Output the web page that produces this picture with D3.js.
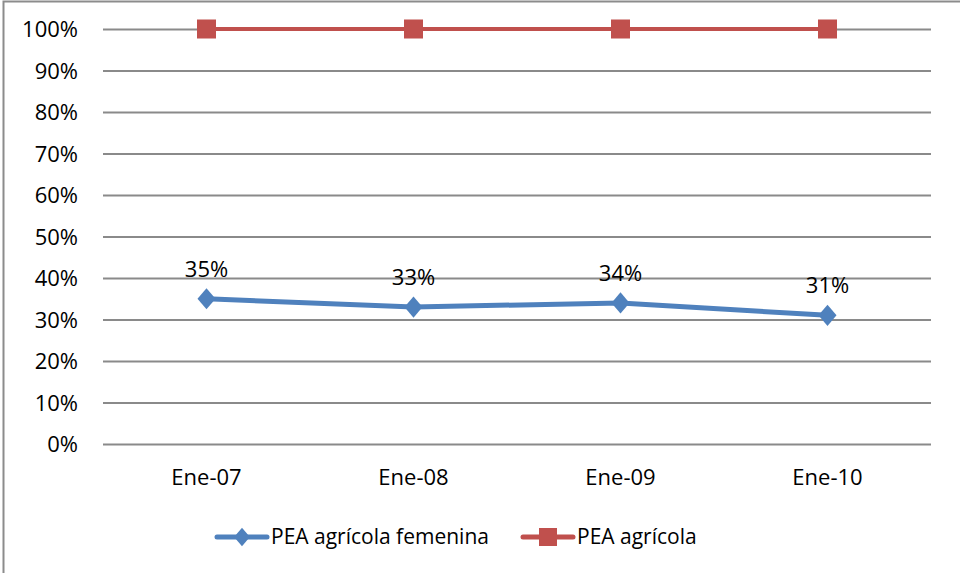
<!DOCTYPE html>
<html>
<head>
<meta charset="utf-8">
<script src="https://cdn.jsdelivr.net/npm/d3@7/dist/d3.min.js"></script>
<style>
  html, body { margin: 0; padding: 0; background: #fff; }
  svg { display: block; font-family: "Open Sans", Lato, "Liberation Sans", sans-serif; }
</style>
</head>
<body>
<svg id="chart" width="960" height="573"></svg>
<script>
// Periods on the x axis
const periods = ["Ene-07", "Ene-08", "Ene-09", "Ene-10"];
// Series values (percent)
const peaFemenina = [35, 33, 34, 31];
const peaAgricola = [100, 100, 100, 100];
// Y axis ticks (percent)
const yTicks = [0, 10, 20, 30, 40, 50, 60, 70, 80, 90, 100];
// Legend entries
const seriesNames = ["PEA agrícola femenina", "PEA agrícola"];
const seriesColors = ["#4F81BD", "#C0504D"];

const svg = d3.select("#chart");
const W = 960, H = 573;
const plot = { left: 103, right: 931, top: 29, bottom: 444 };
const axisFont = "22px";
const legendFont = "21px";

// Diamond marker a little wider than d3's default one
const wideDiamond = {
  draw(ctx, size) {
    const h = Math.sqrt(size) / 2 * 1.15, w = h * 0.85;
    ctx.moveTo(0, -h); ctx.lineTo(w, 0); ctx.lineTo(0, h); ctx.lineTo(-w, 0); ctx.closePath();
  }
};

// Outer chart frame
svg.append("rect")
  .attr("x", 3.5).attr("y", 1.5)
  .attr("width", W + 10).attr("height", H + 10)
  .attr("fill", "#fff").attr("stroke", "#8c8c8c").attr("stroke-width", 2);

const x = d3.scaleBand().domain(periods).range([plot.left, plot.right]);
const y = d3.scaleLinear().domain([0, 100]).range([plot.bottom, plot.top]);

// Horizontal gridlines and y labels
const yAxis = d3.axisLeft(y).tickValues(yTicks).tickFormat(d => d + "%")
  .tickSize(-(plot.right - plot.left)).tickPadding(25);
const gy = svg.append("g").attr("transform", `translate(${plot.left},0)`).call(yAxis);
gy.select(".domain").remove();
gy.selectAll(".tick line").attr("stroke", "#8a8a8a").attr("stroke-width", 2);
gy.selectAll(".tick text").attr("fill", "#000").style("font-size", axisFont)
  .style("font-family", "'Open Sans', sans-serif").attr("dy", "0.35em");

// Category labels
const xAxis = d3.axisBottom(x).tickSize(0).tickPadding(25);
const gx = svg.append("g").attr("transform", `translate(0,${plot.bottom})`).call(xAxis);
gx.select(".domain").remove();
gx.selectAll(".tick text").attr("fill", "#000").style("font-size", axisFont)
  .style("font-family", "'Open Sans', sans-serif");

const cx = d => x(d) + x.bandwidth() / 2;
const line = d3.line().x((d, i) => cx(periods[i])).y(d => y(d));

// PEA agrícola (red squares)
svg.append("path").datum(peaAgricola)
  .attr("d", line).attr("fill", "none")
  .attr("stroke", seriesColors[1]).attr("stroke-width", 4);
svg.selectAll(".sq").data(peaAgricola).enter().append("rect")
  .attr("x", (d, i) => cx(periods[i]) - 9.5)
  .attr("y", d => y(d) - 9.5)
  .attr("width", 19).attr("height", 19)
  .attr("fill", seriesColors[1]);

// PEA agrícola femenina (blue diamonds)
svg.append("path").datum(peaFemenina)
  .attr("d", line).attr("fill", "none")
  .attr("stroke", seriesColors[0]).attr("stroke-width", 5);
const diamond = d3.symbol().type(wideDiamond).size(340);
svg.selectAll(".dm").data(peaFemenina).enter().append("path")
  .attr("d", diamond)
  .attr("transform", (d, i) => `translate(${cx(periods[i])},${y(d)})`)
  .attr("fill", seriesColors[0]);

// Data labels
svg.selectAll(".lbl").data(peaFemenina).enter().append("text")
  .attr("x", (d, i) => cx(periods[i]))
  .attr("y", d => y(d) - 22)
  .attr("text-anchor", "middle")
  .style("font-size", axisFont).attr("fill", "#000")
  .text(d => d + "%");

// Legend
const legend = svg.append("g");
const legendItems = [
  { name: seriesNames[0], color: seriesColors[0], x: 217, shape: "diamond" },
  { name: seriesNames[1], color: seriesColors[1], x: 523, shape: "square" }
];
const ly = 537;
legendItems.forEach(it => {
  const g = legend.append("g");
  g.append("line").attr("x1", it.x).attr("x2", it.x + 50)
    .attr("y1", ly).attr("y2", ly)
    .attr("stroke", it.color).attr("stroke-width", 5).attr("stroke-linecap", "round");
  if (it.shape === "diamond") {
    g.append("path").attr("d", d3.symbol().type(wideDiamond).size(260))
      .attr("transform", `translate(${it.x + 25},${ly})`).attr("fill", it.color);
  } else {
    g.append("rect").attr("x", it.x + 16).attr("y", ly - 9).attr("width", 18).attr("height", 18)
      .attr("fill", it.color);
  }
  g.append("text").attr("x", it.x + 54).attr("y", ly).attr("dy", "0.35em")
    .style("font-size", legendFont).attr("fill", "#000").text(it.name);
});
</script>
</body>
</html>
